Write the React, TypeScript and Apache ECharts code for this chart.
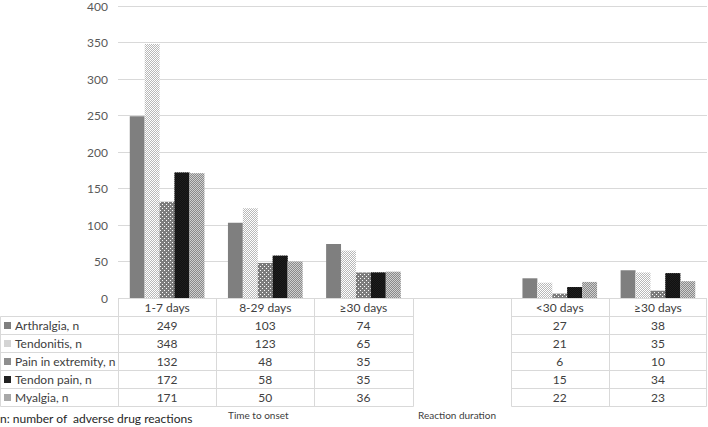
import React, { useEffect, useRef } from "react";
import * as echarts from "echarts";

const onsetCategories = ["1-7 days", "8-29 days", "≥30 days"];
const durationCategories = ["<30 days", "≥30 days"];
const seriesNames = [
  "Arthralgia, n",
  "Tendonitis, n",
  "Pain in extremity, n",
  "Tendon pain, n",
  "Myalgia, n",
];
// values: 3 time-to-onset columns, then 2 reaction-duration columns
const arthralgia = [249, 103, 74, 27, 38];
const tendonitis = [348, 123, 65, 21, 35];
const painInExtremity = [132, 48, 35, 6, 10];
const tendonPain = [172, 58, 35, 15, 34];
const myalgia = [171, 50, 36, 22, 23];
const yTicks = { min: 0, max: 400, interval: 50 };
const footnote = "n: number of  adverse drug reactions";
const groupTitles = ["Time to onset", "Reaction duration"];

const seriesValues = [arthralgia, tendonitis, painInExtremity, tendonPain, myalgia];
const categories = [...onsetCategories, "", ...durationCategories];
const withGap = (v: number[]) => [
  ...v.slice(0, onsetCategories.length),
  null,
  ...v.slice(onsetCategories.length),
];

const FONT = "Lato, 'Open Sans', sans-serif";
const BORDER = "#d9d9d9";
const TEXT = "#404040";

const baseColors = ["#7f7f7f", "#ffffff", "#7c7c7c", "#1e1e1e", "#cfcfcf"];
const keyColors = ["#7f7f7f", "#d4d4d4", "#8e8e8e", "#222222", "#a8a8a8"];
const checker = (color: string) => ({
  color,
  symbol: "rect",
  symbolSize: 1,
  dashArrayX: [
    [1, 1],
    [0, 1, 1, 0],
  ],
  dashArrayY: [1, 0],
});
const decals: any[] = [
  null,
  checker("#b8b8b8"),
  {
    color: "#ffffff",
    symbol: "rect",
    symbolSize: 1,
    dashArrayX: [
      [1, 3],
      [0, 2, 1, 1],
    ],
    dashArrayY: [1, 1],
  },
  checker("#111111"),
  checker("#8a8a8a"),
];

const GRID_LEFT = 118;
const GRID_RIGHT = 1;
const GRID_TOP = 4;
const AXIS_Y = 298;
const ROW_H = 18;
const W = 708;
const H = 427;

export default function App() {
  const ref = useRef<HTMLDivElement>(null);
  useEffect(() => {
    const chart = echarts.init(ref.current!, null, { renderer: "svg" });
    const option: any = {
      animation: false,
      textStyle: { fontFamily: FONT },
      grid: {
        left: GRID_LEFT,
        right: GRID_RIGHT,
        top: GRID_TOP,
        bottom: H - AXIS_Y,
        containLabel: false,
      },
      xAxis: {
        type: "category",
        data: categories,
        axisLine: { show: false },
        axisTick: { show: false },
        axisLabel: {
          interval: 0,
          margin: 3,
          color: TEXT,
          fontSize: 12,
          fontFamily: FONT,
        },
      },
      yAxis: {
        type: "value",
        min: yTicks.min,
        max: yTicks.max,
        interval: yTicks.interval,
        axisLine: { show: false },
        axisTick: { show: false },
        axisLabel: { color: "#595959", fontSize: 12, margin: 10, fontFamily: FONT },
        splitLine: { lineStyle: { color: BORDER, width: 1 } },
      },
      series: seriesValues.map((vals, i) => ({
        name: seriesNames[i],
        type: "bar",
        data: withGap(vals),
        barGap: "0%",
        barCategoryGap: "24%",
        itemStyle: decals[i]
          ? { color: baseColors[i], decal: decals[i] }
          : { color: baseColors[i] },
      })),
    };
    chart.setOption(option);

    // Data table built from the same arrays, aligned to the category axis
    const colW =
      (chart.convertToPixel({ xAxisIndex: 0 }, 1) as number) -
      (chart.convertToPixel({ xAxisIndex: 0 }, 0) as number);
    const centerX = (idx: number) => chart.convertToPixel({ xAxisIndex: 0 }, idx) as number;
    const gapIdx = onsetCategories.length;
    const right = W - GRID_RIGHT;
    const tableBottom = AXIS_Y + ROW_H * (seriesNames.length + 1);
    const g: any[] = [];
    const line = (x1: number, y1: number, x2: number, y2: number) =>
      g.push({
        type: "line",
        silent: true,
        shape: { x1, y1, x2, y2 },
        style: { stroke: BORDER, lineWidth: 1 },
      });
    const gapL = Math.round(GRID_LEFT + gapIdx * colW) + 0.5;
    const gapR = Math.round(GRID_LEFT + (gapIdx + 1) * colW) + 0.5;
    // horizontal lines
    for (let r = 0; r <= seriesNames.length + 1; r++) {
      const y = AXIS_Y + r * ROW_H + 0.5;
      const startX = r === 0 ? GRID_LEFT + 0.5 : 0.5;
      line(startX, y, gapL, y);
      line(gapR, y, right - 0.5, y);
    }
    // vertical lines
    for (let c = 0; c <= categories.length; c++) {
      const x = Math.min(Math.round(GRID_LEFT + c * colW) + 0.5, right - 0.5);
      line(x, AXIS_Y + 0.5, x, tableBottom + 0.5);
    }
    line(0.5, AXIS_Y + ROW_H + 0.5, 0.5, tableBottom + 0.5);

    // row labels and values
    seriesNames.forEach((name, i) => {
      const cy = AXIS_Y + ROW_H * (i + 1) + ROW_H / 2 + 0.5;
      g.push({
        type: "rect",
        silent: true,
        shape: { x: 4, y: Math.round(cy - 3.5), width: 7, height: 7 },
        style: { fill: keyColors[i] },
      });
      g.push({
        type: "text",
        silent: true,
        x: 15,
        y: cy,
        style: {
          text: name,
          fill: TEXT,
          font: `12px ${FONT}`,
          textAlign: "left",
          textVerticalAlign: "middle",
        },
      });
      withGap(seriesValues[i]).forEach((v, j) => {
        if (v === null) return;
        g.push({
          type: "text",
          silent: true,
          x: centerX(j),
          y: cy,
          style: {
            text: String(v),
            fill: TEXT,
            font: `12px ${FONT}`,
            textAlign: "center",
            textVerticalAlign: "middle",
          },
        });
      });
    });

    g.push({
      type: "text",
      silent: true,
      x: 0,
      y: 418,
      style: {
        text: footnote,
        fill: "#262626",
        font: `12px ${FONT}`,
        textAlign: "left",
        textVerticalAlign: "middle",
      },
    });
    g.push({
      type: "text",
      silent: true,
      x: 228,
      y: 415,
      style: {
        text: groupTitles[0],
        fill: TEXT,
        font: `10px ${FONT}`,
        textAlign: "left",
        textVerticalAlign: "middle",
      },
    });
    g.push({
      type: "text",
      silent: true,
      x: 418,
      y: 415,
      style: {
        text: groupTitles[1],
        fill: TEXT,
        font: `10px ${FONT}`,
        textAlign: "left",
        textVerticalAlign: "middle",
      },
    });

    chart.setOption({ graphic: g });
    return () => chart.dispose();
  }, []);
  return (
    <div
      ref={ref}
      style={{ position: "absolute", left: 0, top: 0, width: W, height: H, background: "#fff" }}
    />
  );
}
